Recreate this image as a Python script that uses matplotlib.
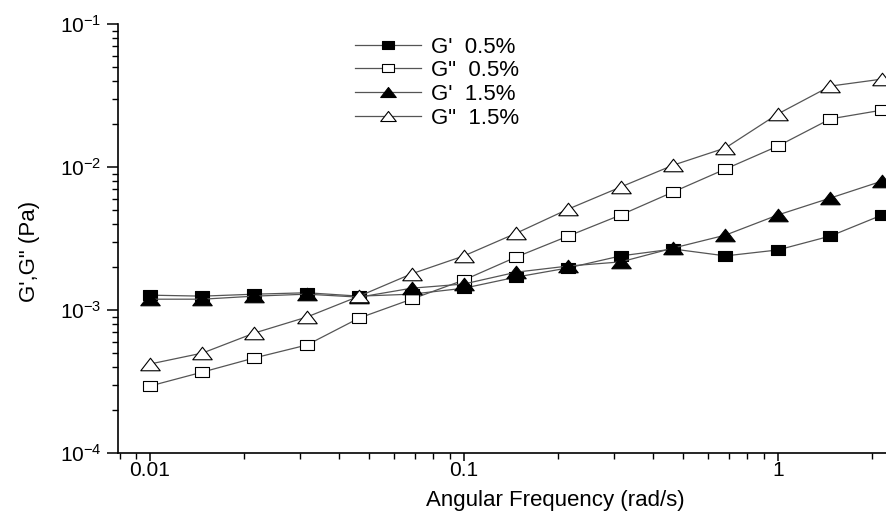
import numpy as np
import matplotlib
matplotlib.use("Agg")
import matplotlib.pyplot as plt
from matplotlib.path import Path
from matplotlib.ticker import LogLocator, FixedLocator, NullFormatter

plt.rcParams['font.family'] = ['Liberation Sans', 'DejaVu Sans']
plt.rcParams['mathtext.fontset'] = 'custom'
plt.rcParams['mathtext.rm'] = 'Liberation Sans'
plt.rcParams['mathtext.it'] = 'Liberation Sans:italic'

# Angular frequency sweep (rad/s), 6 points per decade
freq = [0.01, 0.0147, 0.0215, 0.0316, 0.0464, 0.0681, 0.1, 0.147, 0.215,
        0.316, 0.464, 0.681, 1.0, 1.47, 2.15]

# Storage / loss moduli (Pa)
g1_05 = [1.27e-3, 1.25e-3, 1.29e-3, 1.32e-3, 1.25e-3, 1.29e-3, 1.42e-3, 1.70e-3,
         1.97e-3, 2.39e-3, 2.67e-3, 2.39e-3, 2.63e-3, 3.29e-3, 4.62e-3]
g2_05 = [2.94e-4, 3.68e-4, 4.62e-4, 5.69e-4, 8.79e-4, 1.19e-3, 1.62e-3, 2.35e-3,
         3.29e-3, 4.62e-3, 6.69e-3, 9.68e-3, 1.40e-2, 2.17e-2, 2.50e-2]
g1_15 = [1.19e-3, 1.19e-3, 1.25e-3, 1.29e-3, 1.23e-3, 1.42e-3, 1.52e-3, 1.84e-3,
         2.03e-3, 2.17e-3, 2.71e-3, 3.34e-3, 4.62e-3, 6.07e-3, 7.98e-3]
g2_15 = [4.19e-4, 5.00e-4, 6.90e-4, 8.93e-4, 1.25e-3, 1.79e-3, 2.39e-3, 3.45e-3,
         5.08e-3, 7.25e-3, 1.03e-2, 1.36e-2, 2.35e-2, 3.68e-2, 4.12e-2]

labels = ["G'  0.5%", 'G"  0.5%', "G'  1.5%", 'G"  1.5%']

# slightly wide square and triangle markers
sq = Path([(-1.3, -1), (1.3, -1), (1.3, 1), (-1.3, 1), (-1.3, -1)],
          [Path.MOVETO, Path.LINETO, Path.LINETO, Path.LINETO, Path.CLOSEPOLY])
tri = Path([(0, 1), (-1.55, -1), (1.55, -1), (0, 1)],
           [Path.MOVETO, Path.LINETO, Path.LINETO, Path.CLOSEPOLY])

fig = plt.figure(figsize=(8.86, 5.17), dpi=100)
ax = fig.add_axes([118 / 886, 1 - 453 / 517, 1 - 118 / 886, (453 - 24) / 517])

series = [
    (g1_05, sq, 'black', 10.0),
    (g2_05, sq, 'white', 10.0),
    (g1_15, tri, 'black', 14.0),
    (g2_15, tri, 'white', 14.0),
]
for (vals, mk, fc, ms), lab in zip(series, labels):
    ax.plot(freq, vals, color='#555555', lw=0.9, marker=mk, markersize=ms,
            markerfacecolor=fc, markeredgecolor='black', markeredgewidth=0.8,
            label=lab)

ax.set_xscale('log')
ax.set_yscale('log')
ax.set_xlim(0.00791, 2.21)
ax.set_ylim(1e-4, 1e-1)

ax.spines['top'].set_visible(False)
ax.spines['right'].set_visible(False)
for s in ('left', 'bottom'):
    ax.spines[s].set_linewidth(1.2)

ax.xaxis.set_major_locator(FixedLocator([0.01, 0.1, 1]))
ax.set_xticklabels(['0.01', '0.1', '1'])
ax.xaxis.set_minor_locator(LogLocator(base=10, subs=np.arange(2, 10)))
ax.xaxis.set_minor_formatter(NullFormatter())

ax.yaxis.set_major_locator(FixedLocator([1e-4, 1e-3, 1e-2, 1e-1]))
ax.set_yticklabels([r'$\mathregular{10^{-4}}$', r'$\mathregular{10^{-3}}$',
                    r'$\mathregular{10^{-2}}$', r'$\mathregular{10^{-1}}$'])
ax.yaxis.set_minor_locator(LogLocator(base=10, subs=np.arange(2, 10)))
ax.yaxis.set_minor_formatter(NullFormatter())

ax.tick_params(axis='y', which='major', direction='out', length=8, width=1.1,
               labelsize=15, pad=4)
ax.tick_params(axis='x', which='major', direction='out', length=6, width=1.1,
               labelsize=15, pad=0)
ax.tick_params(which='minor', direction='out', length=4, width=1.0)

ax.set_xlabel('Angular Frequency (rad/s)', fontsize=16)
ax.set_ylabel('G\',G" (Pa)', fontsize=16)
ax.xaxis.set_label_coords(0.569, -0.086)
ax.yaxis.set_label_coords(-0.101, 0.47)

leg = ax.legend(loc='upper left', bbox_to_anchor=(339 / 886, 1 - 21 / 517),
                bbox_transform=fig.transFigure, frameon=False, fontsize=16,
                handlelength=3.0, handletextpad=0.45, labelspacing=0.12,
                borderpad=0.2, markerscale=0.8)

fig.savefig('out.png', dpi=100)
